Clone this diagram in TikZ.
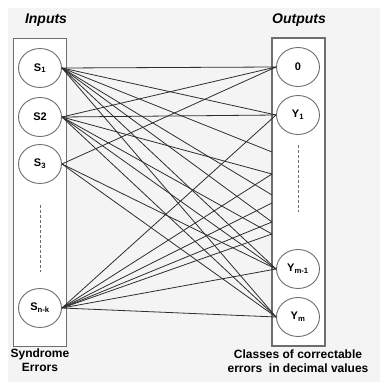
\documentclass[tikz,border=0pt]{standalone}
\usepackage{fontspec}
\setmainfont{Liberation Sans}
\usetikzlibrary{shapes.geometric}
\definecolor{sheet}{HTML}{F4F4F4}
\definecolor{frame}{HTML}{6E6E6E}
\definecolor{wire}{HTML}{2E2E2E}

\begin{document}
\begin{tikzpicture}[x=1pt,y=-1pt,font=\fontsize{11}{13}\selectfont\bfseries,
col/.style={draw=frame,line width=1.3pt,fill=white,minimum width=53pt,minimum height=308pt,inner sep=0pt},
unit/.style={ellipse,draw=frame,line width=0.9pt,fill=white,minimum width=43pt,minimum height=39pt,inner sep=0pt},
head/.style={font=\fontsize{14}{16}\selectfont\bfseries\itshape},
note/.style={align=center,font=\fontsize{12}{14}\selectfont\bfseries},
link/.style={color=wire,line width=0.8pt},
dots/.style={color=frame,line width=1pt,dash pattern=on 3pt off 2pt}]
\useasboundingbox (0,0) rectangle (380,382);
\fill[white] (0,0) rectangle (380,382);
\fill[sheet] (8,8) rectangle (380,382);
% the two columns
\node[col] (inbox) at (40,192.5) {};
\node[col] (outbox) at (298.5,192) {};
\node[head] (inlabel) at (46,20) {Inputs};
\node[head] (outlabel) at (299,20) {Outputs};
% syndromes
\node[unit] (s1) at (40,68) {S\textsubscript{1}};
\node[unit] (s2) at (40,117) {S2};
\node[unit] (s3) at (40,164) {S\textsubscript{3}};
\node[unit] (snk) at (40,308) {S\textsubscript{n-k}};
\draw[dots] (40,205)--(40,272);
% error classes
\node[unit] (zero) at (298,67) {0};
\node[unit] (y1) at (298,115) {Y\textsubscript{1}};
\node[unit] (ym1) at (298,269) {Y\textsubscript{m-1}};
\node[unit] (ym) at (298,317) {Y\textsubscript{m}};
\draw[dots] (298,145)--(298,212);
\coordinate (d1) at (272,152);
\coordinate (d2) at (272,174);
\coordinate (d3) at (272,195);
\coordinate (d4) at (272,203);
\coordinate (d5) at (272,222);
\coordinate (d6) at (272,234);
\node[note] (inname) at (40,360) {Syndrome\\Errors};
\node[note] (outname) at (298,361) {Classes of correctable\\errors\ \ in decimal values};
% connections
\foreach \t in {zero.west,y1.west,d1,d3,d5,ym1.west,ym.west}
  \draw[link] (s1.east)--(\t);
\foreach \t in {zero.west,y1.west,d2,d6,ym1.west,ym.west}
  \draw[link] (s2.east)--(\t);
\foreach \t in {zero.west,ym1.west,ym.west}
  \draw[link] (s3.east)--(\t);
\foreach \t in {y1.west,d2,d4,d5,d6,ym1.west,ym.west}
  \draw[link] (snk.east)--(\t);
\end{tikzpicture}
\end{document}
